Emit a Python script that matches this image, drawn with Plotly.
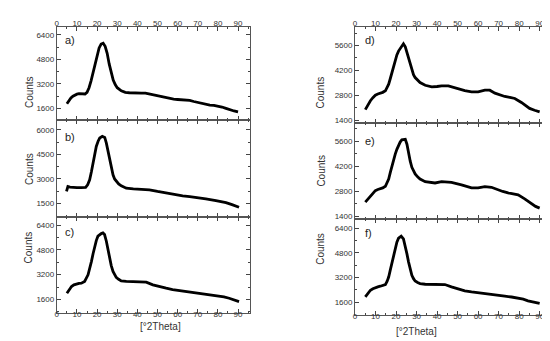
import plotly.graph_objects as go

W, H = 550, 341

# ---- data ----
x_a = [5, 6, 7, 8, 9, 10, 11, 12, 13, 14, 15, 16, 17, 18, 19, 20, 21, 22, 23, 24, 25, 26, 27, 28, 29, 30,
       32, 34, 36, 38, 40, 42, 44, 46, 48, 50, 52, 54, 56, 58, 60, 62, 64, 66, 68, 70, 72, 74, 76, 78, 80,
       82, 84, 86, 88, 90]
y_a = [1900, 2100, 2280, 2400, 2480, 2530, 2560, 2550, 2530, 2540, 2650, 2950, 3400, 3950, 4600, 5150,
       5550, 5800, 5850, 5650, 5200, 4500, 3900, 3450, 3150, 2950, 2750, 2650, 2620, 2600, 2600, 2600,
       2590, 2530, 2450, 2400, 2340, 2300, 2250, 2200, 2180, 2170, 2160, 2120, 2050, 1980, 1920, 1860,
       1820, 1790, 1750, 1690, 1600, 1500, 1430, 1370]

x_b = [4.8, 5.5, 6.5, 8, 10, 12, 14.3, 15.3, 16.3, 17.2, 18, 18.8, 19.6, 20.5, 21.3, 22.6, 23.8, 24.6,
       25.4, 26.2, 27, 27.9, 28.7, 29.5, 30.7, 32, 34.5, 38, 41, 44, 46, 50, 54.3, 58, 62.5, 66, 69, 74, 79,
       82, 84, 87, 90.5]
y_b = [2240, 2540, 2500, 2480, 2480, 2480, 2490, 2650, 2950, 3450, 3960, 4500, 4980, 5300, 5490, 5590,
       5530, 5180, 4700, 4170, 3650, 3255, 3000, 2846, 2700, 2584, 2438, 2400, 2377, 2360, 2340, 2240,
       2133, 2060, 1974, 1930, 1889, 1790, 1687, 1630, 1565, 1440, 1280]

x_c = [5, 6, 7.3, 8.5, 9.7, 11, 12.2, 13.8, 15.5, 16.4, 17.2, 18, 18.8, 19.6, 20.4, 21.3, 22.1, 22.9,
       23.7, 24.6, 25.4, 26.2, 27, 27.9, 28.7, 29.5, 30.7, 32, 34.5, 38, 41.1, 44.4, 47.7, 51, 54.3, 57.5,
       60.9, 64, 67.5, 71, 74, 77.5, 80.6, 83, 85.6, 88, 90.5]
y_c = [2000, 2220, 2435, 2540, 2604, 2640, 2650, 2760, 3190, 3600, 4060, 4550, 5035, 5400, 5685, 5800,
       5854, 5900, 5790, 5360, 4820, 4275, 3800, 3410, 3180, 3020, 2900, 2800, 2760, 2760, 2760, 2717,
       2540, 2420, 2325, 2240, 2175, 2110, 2045, 1990, 1935, 1880, 1825, 1760, 1675, 1580, 1460]

x_d = [5, 6.2, 7.5, 8.7, 9.9, 11.1, 12.3, 13.5, 14.8, 15.6, 16.4, 17.2, 18, 18.8, 19.6, 20.4, 21.2,
       22.8, 23.6, 24.5, 25.3, 26.1, 26.9, 27.7, 28.5, 29.3, 30.5, 31.7, 34.2, 37.4, 40, 42.2, 45.5, 48,
       50.3, 53.5, 56.8, 60, 63.3, 65.7, 68.2, 70.5, 73, 75.5, 77.9, 81.1, 83, 85.1, 87.5, 90]
y_d = [1982, 2250, 2486, 2660, 2800, 2870, 2912, 2960, 3046, 3200, 3416, 3740, 4071, 4450, 4816, 5070,
       5286, 5600, 5695, 5527, 5200, 4816, 4470, 4166, 3960, 3791, 3640, 3511, 3360, 3270, 3290, 3326,
       3326, 3240, 3136, 3060, 2990, 2990, 3080, 3080, 2912, 2820, 2727, 2670, 2615, 2391, 2240, 2055,
       1950, 1860]

x_e = [5, 6.2, 7.5, 8.7, 9.9, 11.1, 12.3, 13.5, 14.8, 15.6, 16.4, 17.2, 18, 18.8, 19.6, 20.4, 21.2,
       22, 22.8, 23.6, 24.5, 25.3, 26.1, 26.9, 27.7, 28.5, 29.3, 30.5, 31.7, 34.2, 39, 42.2, 47, 51.9,
       56.8, 60, 63.3, 66.5, 69.8, 72, 74.6, 79.5, 82.7, 85.9, 88, 90]
y_e = [2180, 2350, 2514, 2680, 2827, 2890, 2922, 2980, 3072, 3250, 3480, 3850, 4222, 4560, 4875, 5140,
       5377, 5550, 5673, 5700, 5700, 5432, 4875, 4480, 4132, 3920, 3759, 3600, 3480, 3329, 3256, 3329,
       3293, 3145, 2977, 2977, 3050, 3014, 2866, 2780, 2698, 2587, 2364, 2085, 1940, 1845]

x_f = [5, 6.2, 7.5, 8.7, 9.9, 11.1, 12.3, 13.5, 14.8, 15.6, 16.4, 17.2, 18, 18.8, 19.6, 20.4, 21.2,
       22.5, 23.6, 24.5, 25.3, 26.1, 26.9, 27.7, 28.5, 29.3, 30.5, 31.7, 34.2, 37.5, 40.6, 43.8, 47, 50.3,
       53.5, 56.8, 60, 63.3, 66.5, 70, 73, 76.3, 79.5, 82, 84.3, 87, 90]
y_f = [1950, 2180, 2382, 2480, 2556, 2600, 2640, 2690, 2749, 2950, 3240, 3700, 4207, 4700, 5175, 5500,
       5755, 5884, 5716, 5284, 4740, 4207, 3750, 3349, 3130, 2982, 2880, 2814, 2769, 2760, 2749, 2749,
       2595, 2460, 2337, 2270, 2207, 2150, 2104, 2050, 1995, 1940, 1885, 1800, 1691, 1600, 1524]

tick_x = [0, 10, 20, 30, 40, 50, 60, 70, 80, 90]
ticks_a = [1600, 3200, 4800, 6400]
ticks_b = [1500, 3000, 4500, 6000]
ticks_c = [1600, 3200, 4800, 6400]
ticks_d = [1400, 2800, 4200, 5600]
ticks_e = [1400, 2800, 4200, 5600]
ticks_f = [1600, 3200, 4800, 6400]
panel_labels = ["a)", "b)", "c)", "d)", "e)", "f)"]
x_title = "[°2Theta]"
y_title = "Counts"

# ---- layout in pixels ----
def fx(px):
    return px / W

def fy(py):
    return 1 - py / H

cols = [(47, 241, [0, 96]), (346.3, 542.7, [0, 95.4])]
rows_left = [(19, 113), (113, 210), (210, 307)]
rows_right = [(19, 115.7), (115.7, 212.3), (212.3, 309.3)]
yranges = [[820, 6920], [700, 6570], [710, 6940], [1230, 6650], [1230, 6620], [740, 7000]]
yticks = [ticks_a, ticks_b, ticks_c, ticks_d, ticks_e, ticks_f]
xs = [x_a, x_b, x_c, x_d, x_e, x_f]
ys = [y_a, y_b, y_c, y_d, y_e, y_f]
label_pos = [(53, 32), (53, 130), (53, 225), (354, 32), (354, 134), (354, 226)]

FONT = "Liberation Sans, Arial, sans-serif"
fig = go.Figure()
layout = dict(width=W, height=H, margin=dict(l=0, r=0, t=0, b=0), showlegend=False,
              paper_bgcolor="white", plot_bgcolor="white",
              font=dict(family=FONT, size=8, color="#333"))
annotations = []

for i in range(6):
    c = 0 if i < 3 else 1
    r = i % 3
    x0, x1, xr = cols[c]
    top, bot = (rows_left if c == 0 else rows_right)[r]
    n = i + 1
    xa = "xaxis" if n == 1 else f"xaxis{n}"
    ya = "yaxis" if n == 1 else f"yaxis{n}"
    fig.add_trace(go.Scatter(x=xs[i], y=ys[i], mode="lines",
                             line=dict(color="black", width=2.8),
                             xaxis=f"x{n}" if n > 1 else "x", yaxis=f"y{n}" if n > 1 else "y"))
    show_x = (r == 0) or (r == 2)
    layout[xa] = dict(domain=[fx(x0), fx(x1)], range=xr, anchor=f"y{n}" if n > 1 else "y",
                      side="top" if r == 0 else "bottom",
                      tickvals=tick_x, showticklabels=show_x,
                      ticklabelstandoff=(-3 if r == 0 else -7),
                      ticks="inside", ticklen=4, tickcolor="#444",
                      minor=dict(dtick=5, ticks="inside", ticklen=2, tickcolor="#444"),
                      showline=True, linecolor="#555", linewidth=1, mirror="ticks",
                      showgrid=False, zeroline=False,
                      tickfont=dict(size=8, color="#333"))
    layout[ya] = dict(domain=[fy(bot), fy(top)], range=yranges[i], anchor=f"x{n}" if n > 1 else "x",
                      tickvals=yticks[i], ticks="inside", ticklen=4, tickcolor="#444",
                      minor=dict(dtick=(yticks[i][1] - yticks[i][0]) / 2, ticks="inside", ticklen=2,
                                 tickcolor="#444"),
                      showline=True, linecolor="#555", linewidth=1, mirror="ticks",
                      showgrid=False, zeroline=False,
                      tickfont=dict(size=8, color="#333"))
    # Counts title
    annotations.append(dict(text=y_title, x=fx(12 if c == 0 else 311.7), y=fy((top + bot) / 2),
                            xref="paper", yref="paper", showarrow=False, textangle=-90,
                            font=dict(size=10, color="#333")))
    lx, ly = label_pos[i]
    annotations.append(dict(text=panel_labels[i], x=fx(lx), y=fy(ly), xref="paper", yref="paper",
                            xanchor="left", yanchor="middle", showarrow=False,
                            font=dict(size=11, color="#222")))

annotations.append(dict(text=x_title, x=fx(128.5), y=fy(328), xref="paper", yref="paper",
                        showarrow=False, font=dict(size=10, color="#333")))
annotations.append(dict(text=x_title, x=fx(431), y=fy(332.7), xref="paper", yref="paper",
                        showarrow=False, font=dict(size=10, color="#333")))
layout["annotations"] = annotations
fig.update_layout(**layout)
fig.write_html("out.html")
